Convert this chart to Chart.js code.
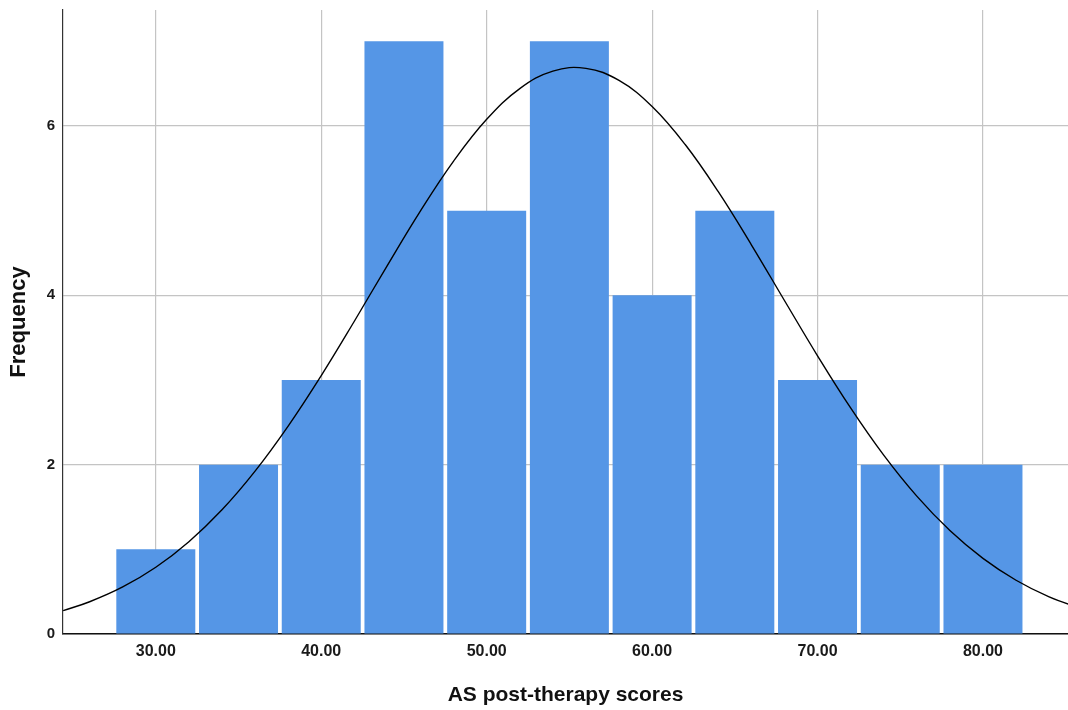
<!DOCTYPE html>
<html>
<head>
<meta charset="utf-8">
<script src="https://cdn.jsdelivr.net/npm/chart.js@4/dist/chart.umd.min.js"></script>
<style>
  html, body { margin: 0; padding: 0; background: #ffffff; }
  #wrap { width: 1068px; height: 710px; }
</style>
</head>
<body>
<div id="wrap"><canvas id="c" width="1068" height="710"></canvas></div>
<script>
// Histogram bins (bin centres, width 5) and frequencies
const binCenters = [30, 35, 40, 45, 50, 55, 60, 65, 70, 75, 80];
const frequencies = [1, 2, 3, 7, 5, 7, 4, 5, 3, 2, 2];

// Normal curve points
const curveX = [24.4, 26, 28, 30, 32, 34, 36, 38, 40, 42, 44, 46, 48, 50, 52, 54, 56, 58, 60, 62, 64, 66, 68, 70, 72, 74, 76, 78, 80, 82, 84, 86];
const curveY = [0.276, 0.381, 0.556, 0.788, 1.09, 1.467, 1.924, 2.456, 3.052, 3.694, 4.355, 4.998, 5.585, 6.079, 6.442, 6.649, 6.681, 6.538, 6.23, 5.781, 5.224, 4.597, 3.939, 3.286, 2.67, 2.112, 1.628, 1.222, 0.893, 0.635, 0.439, 0.297];

// Axis ticks
const xTickValues = [30, 40, 50, 60, 70, 80];
const xTickLabels = ['30.00', '40.00', '50.00', '60.00', '70.00', '80.00'];
const yTickValues = [0, 2, 4, 6];
const yTickLabels = ['0', '2', '4', '6'];

const xMin = 24.39, xMax = 85.14;
const yMin = 0, yMax = 7.37;

const FONT = "'Liberation Sans', Arial, Helvetica, sans-serif";

function noPad(s) { s.paddingTop = 0; s.paddingBottom = 0; s.paddingLeft = 0; s.paddingRight = 0; }

new Chart(document.getElementById('c'), {
  type: 'bar',
  data: {
    datasets: [
      {
        type: 'line',
        data: curveX.map((x, i) => ({ x: x, y: curveY[i] })),
        borderColor: '#000000',
        borderWidth: 1.4,
        pointRadius: 0,
        tension: 0.4,
        fill: false,
        order: 0
      },
      {
        type: 'bar',
        data: binCenters.map((x, i) => ({ x: x, y: frequencies[i] })),
        backgroundColor: '#5596e6',
        borderWidth: 0,
        categoryPercentage: 1.0,
        barPercentage: 0.955,
        order: 1
      }
    ]
  },
  options: {
    responsive: false,
    animation: false,
    devicePixelRatio: 1,
    layout: { padding: { top: 10, right: 0, left: 0, bottom: 0 } },
    plugins: {
      legend: { display: false },
      tooltip: { enabled: false }
    },
    scales: {
      x: {
        type: 'linear',
        min: xMin,
        max: xMax,
        offset: false,
        afterFit: (s) => { s.height = 76; noPad(s); },
        afterBuildTicks: (s) => { s.ticks = xTickValues.map(v => ({ value: v })); },
        ticks: {
          includeBounds: false,
          autoSkip: false,
          maxRotation: 0,
          padding: 8,
          color: '#1a1a1a',
          font: { family: FONT, size: 16, weight: 'bold' },
          callback: (v) => { const i = xTickValues.indexOf(v); return i >= 0 ? xTickLabels[i] : ''; }
        },
        grid: {
          offset: false,
          drawTicks: false,
          color: '#c4c4c4',
          lineWidth: 1.2
        },
        border: { display: true, color: '#111111', width: 1.5 },
        title: {
          display: true,
          text: 'AS post-therapy scores',
          color: '#111111',
          font: { family: FONT, size: 21, weight: 'bold' },
          padding: { top: 0, bottom: 2 }
        }
      },
      y: {
        type: 'linear',
        min: yMin,
        max: yMax,
        afterFit: (s) => { s.width = 63; noPad(s); },
        afterBuildTicks: (s) => { s.ticks = yTickValues.map(v => ({ value: v })); },
        ticks: {
          includeBounds: false,
          padding: 8,
          color: '#1a1a1a',
          font: { family: FONT, size: 15, weight: 'bold' },
          callback: (v) => { const i = yTickValues.indexOf(v); return i >= 0 ? yTickLabels[i] : ''; }
        },
        grid: {
          drawTicks: false,
          color: '#c4c4c4',
          lineWidth: 1.2
        },
        border: { display: true, color: '#333333', width: 1.2 },
        title: {
          display: true,
          text: 'Frequency',
          color: '#111111',
          font: { family: FONT, size: 22, weight: 'bold' },
          padding: { top: 6, bottom: 0 }
        }
      }
    }
  }
});
</script>
</body>
</html>
